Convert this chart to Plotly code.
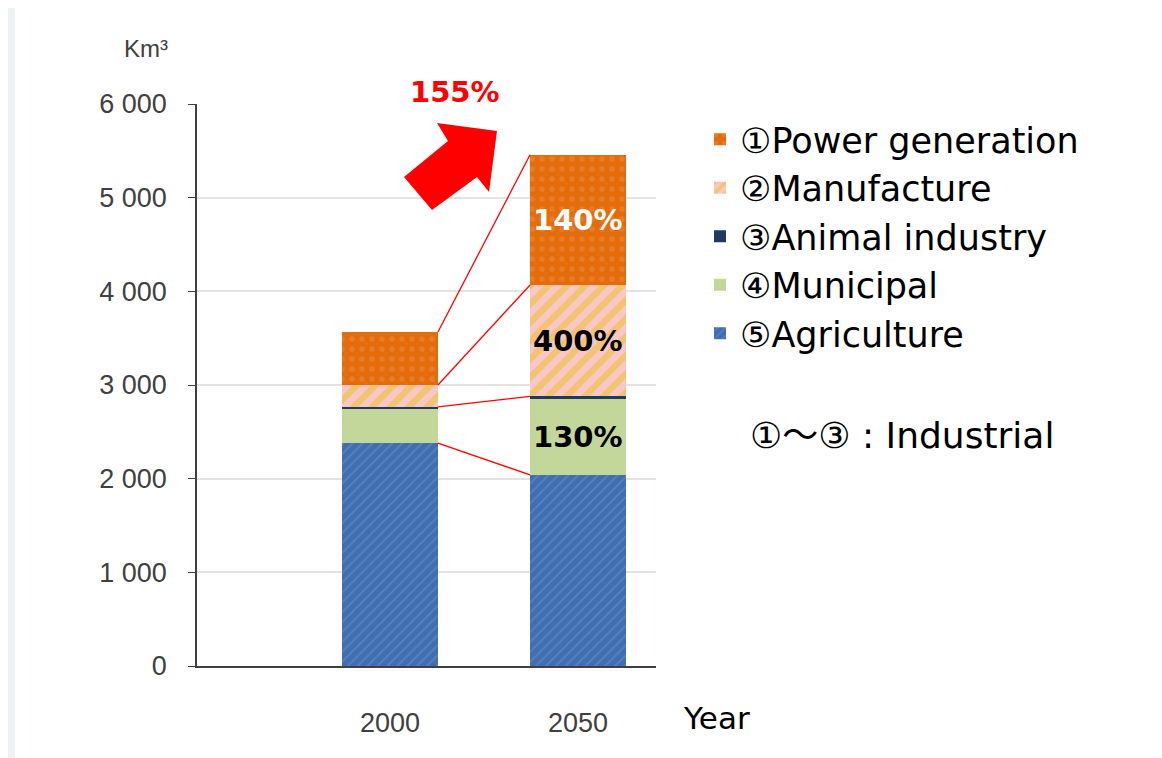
import plotly.graph_objects as go

# ---------------- data ----------------
years = ["2000", "2050"]
series_names = ["⑤Agriculture", "④Municipal", "③Animal industry", "②Manufacture", "①Power generation"]
agriculture = [2380, 2040]
municipal = [365, 810]
animal = [22, 28]
manufacture = [233, 1190]
power = [566, 1390]
growth_labels = {"①Power generation": "140%", "②Manufacture": "400%", "④Municipal": "130%"}
growth_colors = {"①Power generation": "white", "②Manufacture": "black", "④Municipal": "black"}
total_growth = "155%"
y_ticks = [0, 1000, 2000, 3000, 4000, 5000, 6000]
y_ticktext = ["0", "1 000", "2 000", "3 000", "4 000", "5 000", "6 000"]

values = [agriculture, municipal, animal, manufacture, power]

# ---------------- layout geometry ----------------
OFF = 8  # page body margin
W, H = 1162 - OFF, 758 - OFF
L, T = 197 - OFF, 104 - OFF
R = W - (656 - OFF)
B = H - (666 - OFF)
PW, PH = W - L - R, H - T - B
BAR_W = 0.51


def px(xp, yp):
    """reference pixel -> paper coords"""
    return (xp - OFF - L) / PW, (H - B - (yp - OFF)) / PH


styles = [
    dict(color="#3f6fb0", pattern=dict(shape="/", fgcolor="#6f95cc", size=7, solidity=0.25)),
    dict(color="#c4d79b"),
    dict(color="#1f3864"),
    dict(color="#f8c8c8", pattern=dict(shape="/", fgcolor="#eebd1c", bgcolor="#f8c8c8", size=13, solidity=0.5)),
    dict(color="#e46c0a", pattern=dict(shape=".", fgcolor="#ec8a40", size=10, solidity=0.25)),
]

fig = go.Figure()
for name, vals, st in zip(series_names, values, styles):
    fig.add_trace(go.Bar(
        x=years, y=vals, name=name, width=BAR_W,
        marker=dict(color=st["color"], pattern=st.get("pattern", {}),
                    line=dict(width=0)),
        hoverinfo="x+y+name",
    ))

cum = [0, 0]
mids = {}
tops = []
for name, vals in zip(series_names, values):
    mids[name] = cum[1] + vals[1] / 2
    cum = [cum[0] + vals[0], cum[1] + vals[1]]
    tops.append(list(cum))

annotations = []
for name, txt in growth_labels.items():
    annotations.append(dict(x=1, y=mids[name], xref="x", yref="y", text=f"<b>{txt}</b>",
                            xanchor="center", yanchor="middle",
                            showarrow=False, font=dict(family="DejaVu Sans", size=29,
                                                       color=growth_colors[name])))

shapes = []
for i, (t0, t1) in enumerate(tops):
    if series_names[i] == "④Municipal":
        continue
    shapes.append(dict(type="line", xref="x", yref="y", x0=BAR_W / 2, x1=1 - BAR_W / 2,
                       y0=t0, y1=t1, line=dict(color="#ff0000", width=1.3), layer="above"))

# white panel behind
x0p, y0p = px(15, 7)
x1p, y1p = px(1170, 770)
shapes.insert(0, dict(type="rect", xref="paper", yref="paper", x0=x0p, y0=y1p, x1=x1p, y1=y0p,
                      fillcolor="white", line=dict(width=0), layer="below"))

# red block arrow
pts = [(404, 177), (448, 141), (437, 123), (497, 131), (489, 192), (477, 177), (432, 210)]
path = "M " + " L ".join(f"{px(a, b)[0]:.4f},{px(a, b)[1]:.4f}" for a, b in pts) + " Z"
shapes.append(dict(type="path", xref="paper", yref="paper", path=path,
                   fillcolor="#ff0000", line=dict(width=0), layer="above"))


def text_at(x, y, text, font, xanchor="center"):
    xp, yp = px(x, y)
    annotations.append(dict(x=xp, y=yp, xref="paper", yref="paper", text=text, showarrow=False,
                            xanchor=xanchor, yanchor="middle", font=font))


text_at(455, 92, f"<b>{total_growth}</b>", dict(family="DejaVu Sans", size=29, color="#ff0000"))
text_at(146, 48, "Km³", dict(family="Liberation Sans", size=24, color="#404040"))
text_at(681, 718, "Year", dict(family="DejaVu Sans", size=31, color="black"), xanchor="left")
text_at(748, 435, "①～③ : Industrial",
        dict(family="DejaVu Sans, Noto Sans CJK JP", size=36, color="black"), xanchor="left")

lx, ly = px(700, 110)
tickfont = dict(family="Liberation Sans", size=27, color="#404040")
fig.update_layout(
    width=W, height=H,
    margin=dict(l=L, r=R, t=T, b=B, autoexpand=False),
    paper_bgcolor="#edf2f3", plot_bgcolor="white",
    barmode="stack", bargap=0,
    showlegend=True,
    legend=dict(x=lx, y=ly, xanchor="left", yanchor="top", traceorder="reversed",
                font=dict(family="DejaVu Sans, Noto Sans CJK JP", size=35, color="black"),
                bgcolor="rgba(0,0,0,0)", itemwidth=30, tracegroupgap=0),
    xaxis=dict(type="category", categoryorder="array", categoryarray=years,
               range=[(197 - 390) / 188, (656 - 390) / 188],
               showline=True, linecolor="#404040", linewidth=1.5, ticks="",
               tickfont=tickfont, ticklabelstandoff=32, showgrid=False, zeroline=False),
    yaxis=dict(range=[0, 6000], tickvals=y_ticks, ticktext=y_ticktext,
               showline=True, linecolor="#404040", linewidth=1.5,
               ticks="outside", ticklen=7, tickcolor="#404040",
               tickfont=tickfont, ticklabelstandoff=16,
               showgrid=True, gridcolor="#e3e3e3", gridwidth=1.5, zeroline=False),
    shapes=shapes, annotations=annotations,
)

fig.write_html("out.html")
